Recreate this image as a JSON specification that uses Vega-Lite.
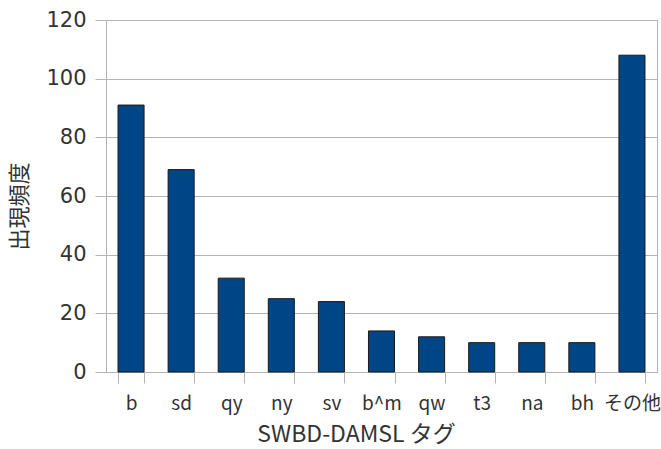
{
  "$schema": "https://vega.github.io/schema/vega-lite/v6.json",
  "width": 551,
  "height": 352,
  "autosize": "none",
  "padding": {"left": 106, "top": 20, "right": 4, "bottom": 77},
  "background": "white",
  "config": {
    "font": "Noto Sans CJK JP",
    "view": {"stroke": "#b3b3b3", "strokeWidth": 1}
  },
  "data": {
    "values": [
      {"tag": "b", "count": 91},
      {"tag": "sd", "count": 69},
      {"tag": "qy", "count": 32},
      {"tag": "ny", "count": 25},
      {"tag": "sv", "count": 24},
      {"tag": "b^m", "count": 14},
      {"tag": "qw", "count": 12},
      {"tag": "t3", "count": 10},
      {"tag": "na", "count": 10},
      {"tag": "bh", "count": 10},
      {"tag": "その他", "count": 108}
    ]
  },
  "mark": {"type": "bar", "fill": "#004586", "stroke": "#1a1a1a", "strokeWidth": 1},
  "encoding": {
    "x": {
      "field": "tag",
      "type": "nominal",
      "sort": null,
      "scale": {"paddingInner": 0.48, "paddingOuter": 0.24},
      "axis": {
        "title": "SWBD-DAMSL タグ",
        "titleFont": "Noto Sans CJK JP",
        "titleFontSize": 23,
        "titleFontWeight": "normal",
        "titleColor": "#333333",
        "titlePadding": 10,
        "titleX": 250,
        "titleAlign": "center",
        "labelAngle": 0,
        "labelFontSize": 19,
        "labelColor": "#333333",
        "labelPadding": 11,
        "tickBand": "extent",
        "tickSize": 11,
        "tickColor": "#b3b3b3",
        "domainColor": "#b3b3b3",
        "grid": false
      }
    },
    "y": {
      "field": "count",
      "type": "quantitative",
      "scale": {"domain": [0, 120]},
      "axis": {
        "title": "出現頻度",
        "titleFontSize": 22,
        "titleFontWeight": "normal",
        "titleColor": "#333333",
        "titlePadding": 14,
        "titleY": 186,
        "values": [0, 20, 40, 60, 80, 100, 120],
        "labelFont": "DejaVu Sans",
        "labelFontSize": 21,
        "labelColor": "#333333",
        "labelPadding": 9,
        "tickSize": 11,
        "tickColor": "#b3b3b3",
        "domainColor": "#b3b3b3",
        "gridColor": "#b3b3b3",
        "grid": true
      }
    }
  }
}
